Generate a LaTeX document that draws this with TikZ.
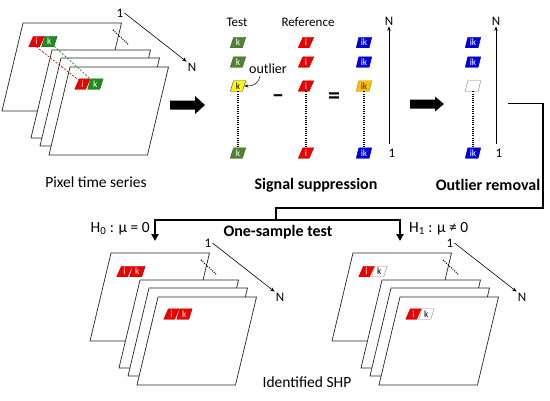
\documentclass[tikz,border=0pt]{standalone}
\usepackage{fontspec}
\setmainfont{Carlito}
\usetikzlibrary{shapes.geometric,arrows.meta}
\definecolor{pxred}{RGB}{236,0,0}
\definecolor{pxgreen}{RGB}{30,140,30}
\definecolor{tgreen}{RGB}{84,130,53}
\definecolor{pxblue}{RGB}{0,0,220}
\definecolor{pxyellow}{RGB}{255,255,0}
\definecolor{pxorange}{RGB}{255,192,0}
\tikzset{
 plane/.style={draw=black!85, fill=white, line width=0.7pt},
 lab/.style={font=\fontsize{13}{13}\selectfont, inner sep=1pt},
 smalltxt/.style={font=\fontsize{13}{13}\selectfont, inner sep=1pt},
 ttl/.style={font=\fontsize{16}{16}\selectfont\bfseries, inner sep=1pt},
 captxt/.style={font=\fontsize{15.5}{15.5}\selectfont, inner sep=1pt},
 axarrow/.style={line width=0.6pt, -{Stealth[length=4.5pt,width=3.5pt]}},
 dotline/.style={line width=1.1pt, dash pattern=on 0.9pt off 1.3pt},
 conn/.style={line width=1.8pt},
 tipped/.style={-{Triangle[length=7pt,width=7pt]}},
 px/.style={trapezium, trapezium left angle=76, trapezium right angle=104,
   trapezium stretches=true, minimum width=15.5pt, minimum height=10.5pt,
   inner sep=0pt, font=\fontsize{9.5}{9.5}\selectfont, text=white, line width=0.4pt},
 gk/.style={px, fill=tgreen, draw=tgreen!70!black},
 gktwo/.style={px, fill=pxgreen, draw=pxgreen!70!black},
 ri/.style={px, fill=pxred, draw=pxred!75!black},
 bik/.style={px, fill=pxblue, draw=pxblue!75!black},
 yk/.style={px, fill=pxyellow, draw=black!75, text=black},
 oik/.style={px, fill=pxorange, draw=pxorange!70!black, text=black!80},
 emp/.style={px, fill=white, draw=black!50},
 wk/.style={px, fill=white, draw=black!45, text=black},
 opsign/.style={font=\fontsize{24}{24}\selectfont\bfseries, inner sep=0pt},
}
\newcommand\stk[3]{%
 \begin{scope}[shift={(#1,#2)}]
  \foreach \a/\b in {23/23,52/50,61/58,70/67}
   \draw[plane] (\a,\b) -- ++(98.5,0) -- ++(-21,88) -- ++(-98.5,0) -- cycle;
  \draw[dotline] (113,30) -- (129,45);
  \node[lab] (#3one) at (120,13) {1};
  \node[lab] (#3N) at (192,67) {N};
  \draw[axarrow] (#3one.east) -- (#3N.north west);
 \end{scope}}
\begin{document}
\begin{tikzpicture}[x=1pt,y=-1pt]
\useasboundingbox[fill=white] (0,0) rectangle (550,400);

% ---- top-left stack
\stk{0}{0}{a}
\node[ri] (i1) at (36.5,41.5) {i};
\node[gktwo] (k1) at (49.4,41.5) {k};
\node[ri] (i2) at (82.5,84) {i};
\node[gktwo] (k2) at (95.4,84) {k};
\draw[pxred, line width=0.7pt, dash pattern=on 2pt off 1.5pt] (i1.south) -- (i2.north west);
\draw[pxgreen, line width=0.7pt, dash pattern=on 2pt off 1.5pt] (k1.south east) -- (k2.north west);
\node[captxt] (pts) at (96,182) {Pixel time series};

% big arrows
\fill (170,100.5) -- (195,100.5) -- (195,96) -- (205,105) -- (195,114) -- (195,109.5) -- (170,109.5) -- cycle;
\fill (410,99.5) -- (435,99.5) -- (435,96.5) -- (444,104) -- (435,111.5) -- (435,108.5) -- (410,108.5) -- cycle;

% ---- signal suppression
\node[smalltxt] (test) at (237,22) {Test};
\node[smalltxt] (ref) at (308,22) {Reference};
\node[gk] (t1) at (238,42.5) {k};
\node[gk] (t2) at (238,62) {k};
\node[yk] (t3) at (238,86) {k};
\node[gk] (t4) at (238,153) {k};
\draw[dotline] (t3.south) -- (t4.north);
\node[ri] (r1) at (306,42.5) {i};
\node[ri] (r2) at (306,62) {i};
\node[ri] (r3) at (306,86) {i};
\node[ri] (r4) at (306,153) {i};
\draw[dotline] (r3.south) -- (r4.north);
\node[bik] (s1) at (364,42.5) {ik};
\node[bik] (s2) at (364,62) {ik};
\node[oik] (s3) at (364,86) {ik};
\node[bik] (s4) at (364,153) {ik};
\draw[dotline] (s3.south) -- (s4.north);
\node[font=\fontsize{14}{14}\selectfont, inner sep=1pt] (outl) at (268,69) {outlier};
\coordinate (oc) at (260,76);
\draw[line width=0.5pt, -{Stealth[length=4pt,width=3pt]}] (oc) .. controls (258,84) and (254,86) .. (t3.east);
\node[opsign] (minus) at (278,99) {–};
\node[opsign] (eq) at (334,98.5) {=};
\node[lab] (ax1N) at (389,21) {N};
\node[lab] (ax1o) at (392,153) {1};
\coordinate (ax1b) at (389,144);
\draw[axarrow] (ax1b) -- (ax1N.south);
\node[ttl] (sigsup) at (316,185) {Signal suppression};

% ---- outlier removal
\node[bik] (o1) at (473,42.5) {ik};
\node[bik] (o2) at (473,62) {ik};
\node[emp] (o3) at (473,86) {\phantom{ik}};
\node[bik] (o4) at (473,153) {ik};
\draw[dotline] (o3.south) -- (o4.north);
\node[lab] (ax2N) at (496,21) {N};
\node[lab] (ax2o) at (499,153) {1};
\coordinate (ax2b) at (496,144);
\draw[axarrow] (ax2b) -- (ax2N.south);
\node[ttl] (outrem) at (488,185) {Outlier removal};

% ---- connectors
\coordinate (c0) at (508,103.5);
\coordinate (c1) at (543,208);
\coordinate (c2) at (276,208);
\coordinate (c3) at (276,220);
\coordinate (d0) at (155,241);
\coordinate (d1) at (400,241);
\draw[conn, line join=miter] (c0) -| (c1) -- (c2) -- (c3);
\draw[conn, tipped] (c3) -| (d0);
\draw[conn, tipped] (c3) -| (d1);
\node[ttl] (ost) at (278,232) {One-sample test};
\node[captxt, anchor=east] (h0) at (151,229) {H\textsubscript{0} : μ = 0};
\node[captxt, anchor=west] (h1) at (408,229) {H\textsubscript{1} : μ ≠ 0};

% ---- bottom stacks
\stk{88}{230}{b}
\node[ri] (i3) at (124.5,271.5) {i};
\node[ri] (k3) at (137.4,271.5) {k};
\node[ri] (i4) at (171.5,314) {i};
\node[ri] (k4) at (184.4,314) {k};
\stk{330}{230}{c}
\node[ri] (i5) at (366.5,271.5) {i};
\node[wk] (k5) at (379.4,271.5) {k};
\node[ri] (i6) at (413.5,314) {i};
\node[wk] (k6) at (426.4,314) {k};
\node[captxt] (shp) at (307,382) {Identified SHP};
\end{tikzpicture}
\end{document}
